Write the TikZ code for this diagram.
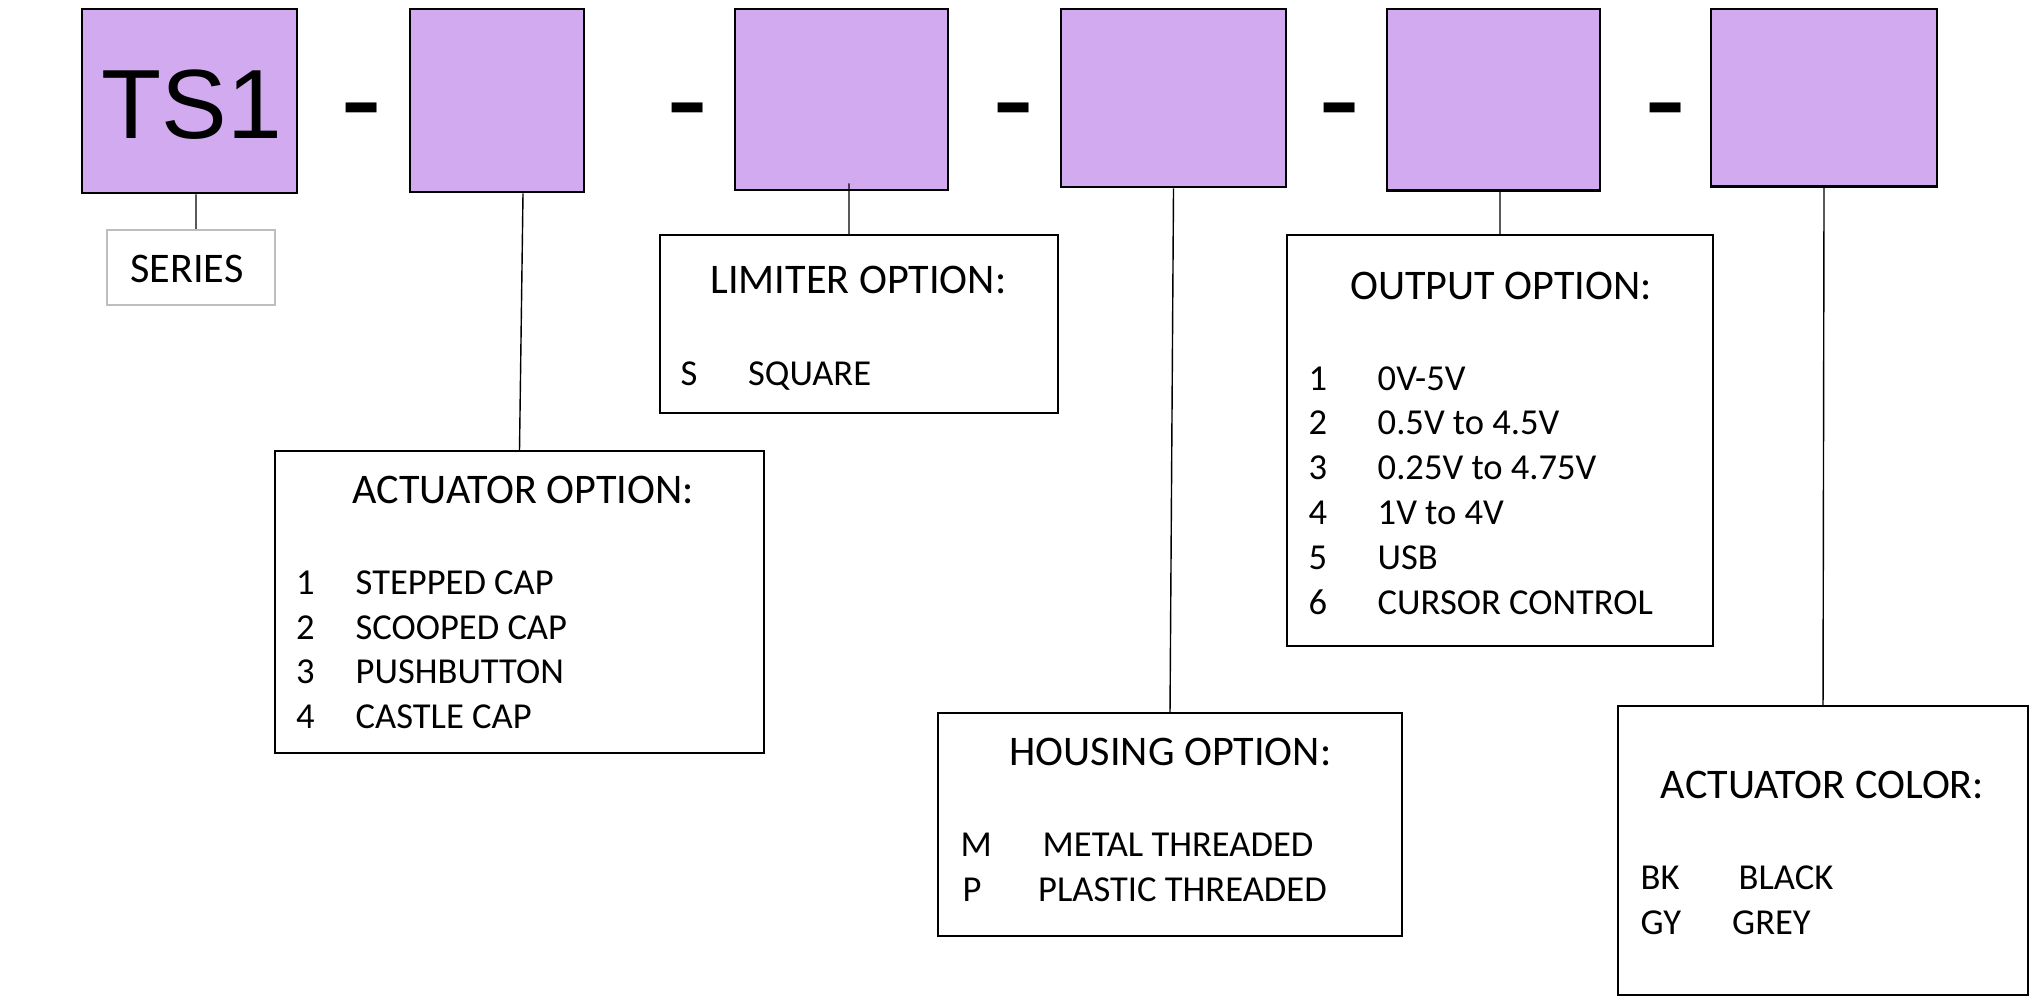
\documentclass[tikz,border=0pt]{standalone}
\usepackage{fontspec}
\setmainfont{Carlito}
\newfontfamily\arialf{Liberation Sans}
\definecolor{boxpurple}{RGB}{209,170,239}
\definecolor{sergray}{RGB}{190,190,190}
\tikzset{
  pbox/.style={draw=black, line width=0.75pt, fill=boxpurple, inner sep=0pt},
  obox/.style={draw=black, line width=0.6pt, fill=white, inner sep=0pt},
  sbox/.style={draw=sergray, line width=0.6pt, fill=white, inner sep=0pt},
  conn/.style={line width=0.4pt, draw=black},
  hdr/.style={font=\fontsize{12}{14}\selectfont, anchor=base, inner sep=0pt},
  itm/.style={font=\fontsize{10.4}{12.7}\selectfont, anchor=base west, inner sep=0pt},
  dsh/.style={font=\arialf\fontsize{36}{40}\selectfont, anchor=base, inner sep=0pt},
  bigt/.style={font=\arialf\fontsize{28}{32}\selectfont, anchor=base, inner sep=0pt},
}
\begin{document}
\begin{tikzpicture}[x=0.1mm,y=-0.1mm]
\useasboundingbox[fill=white] (0,0) rectangle (2043,1000);

% top code boxes
\node[pbox, minimum width=21.5mm, minimum height=18.4mm] (ts) at (189.5,101) {};
\node[pbox, minimum width=17.4mm, minimum height=18.3mm] (b2) at (497,100.5) {};
\node[pbox, minimum width=21.3mm, minimum height=18.1mm] (b3) at (841.5,99.5) {};
\node[pbox, minimum width=22.5mm, minimum height=17.8mm] (b4) at (1173.5,98) {};
\node[pbox, minimum width=21.3mm, minimum height=18.15mm] (b5) at (1493.5,99.75) {};
\node[pbox, minimum width=22.6mm, minimum height=17.75mm] (b6) at (1824,97.75) {};

\node[bigt] (tst) at (192,138) {TS1};

% dashes
\node[dsh] (d1) at (361.5,141) {-};
\node[dsh] (d2) at (688,141) {-};
\node[dsh] (d3) at (1014,141) {-};
\node[dsh] (d4) at (1340,141) {-};
\node[dsh] (d5) at (1666,141) {-};

% option boxes
\node[sbox, minimum width=16.8mm, minimum height=7.5mm] (ser) at (191,267.5) {};
\node[obox, minimum width=48.9mm, minimum height=30.2mm] (act) at (519.5,602) {};
\node[obox, minimum width=39.8mm, minimum height=17.8mm] (lim) at (859,324) {};
\node[obox, minimum width=46.4mm, minimum height=22.3mm] (hous) at (1170,824.5) {};
\node[obox, minimum width=42.6mm, minimum height=41.1mm] (out) at (1500,440.5) {};
\node[obox, minimum width=41.0mm, minimum height=28.9mm] (col) at (1823,850.5) {};

% connectors
\draw[conn] ([xshift=0.65mm]ts.south) -- ([xshift=0.5mm]ser.north);
\draw[conn] ([xshift=2.6mm]b2.south) -- (act.north);
\draw[conn] ([xshift=0.75mm,yshift=0.8mm]b3.south) -- ([xshift=-1mm]lim.north);
\draw[conn] (b4.south) -- (hous.north);
\draw[conn] ([xshift=0.65mm]b5.south) -- (out.north);
\draw[conn] (b6.south) -- (col.north);

% series
\node[hdr] (serT) at (187,282.7) {SERIES};

% limiter
\node[hdr] (limH) at (858.4,293) {LIMITER OPTION:};
\node[itm] (limN1) at (680,385) {S};
\node[itm] (limT1) at (747.5,385) {SQUARE};

% actuator option
\node[hdr] (actH) at (523.3,503.3) {ACTUATOR OPTION:};
\node[itm] (actN1) at (295.5,594.3) {1};
\node[itm] (actT1) at (355,594.3) {STEPPED CAP};
\node[itm] (actN2) at (295.5,639) {2};
\node[itm] (actT2) at (355,639) {SCOOPED CAP};
\node[itm] (actN3) at (295.5,683.3) {3};
\node[itm] (actT3) at (355,683.3) {PUSHBUTTON};
\node[itm] (actN4) at (295.5,728.3) {4};
\node[itm] (actT4) at (355,728.3) {CASTLE CAP};

% output option
\node[hdr] (outH) at (1501,299) {OUTPUT OPTION:};
\node[itm] (outN1) at (1308,390.6) {1};
\node[itm] (outT1) at (1377,390.6) {0V-5V};
\node[itm] (outN2) at (1308,434.8) {2};
\node[itm] (outT2) at (1377,434.8) {0.5V to 4.5V};
\node[itm] (outN3) at (1308,479.8) {3};
\node[itm] (outT3) at (1377,479.8) {0.25V to 4.75V};
\node[itm] (outN4) at (1308,524.8) {4};
\node[itm] (outT4) at (1377,524.8) {1V to 4V};
\node[itm] (outN5) at (1308,569) {5};
\node[itm] (outT5) at (1377,569) {USB};
\node[itm] (outN6) at (1308,614.5) {6};
\node[itm] (outT6) at (1377,614.5) {CURSOR CONTROL};

% housing option
\node[hdr] (housH) at (1170.4,765) {HOUSING OPTION:};
\node[itm] (housN1) at (960,856.7) {M};
\node[itm] (housT1) at (1042,856.7) {METAL THREADED};
\node[itm] (housN2) at (962,901.7) {P};
\node[itm] (housT2) at (1037.5,901.7) {PLASTIC THREADED};

% actuator color
\node[hdr] (colH) at (1822.5,798.3) {ACTUATOR COLOR:};
\node[itm] (colN1) at (1640,889.3) {BK};
\node[itm] (colT1) at (1738,889.3) {BLACK};
\node[itm] (colN2) at (1640,934) {GY};
\node[itm] (colT2) at (1731.5,934) {GREY};
\end{tikzpicture}
\end{document}
